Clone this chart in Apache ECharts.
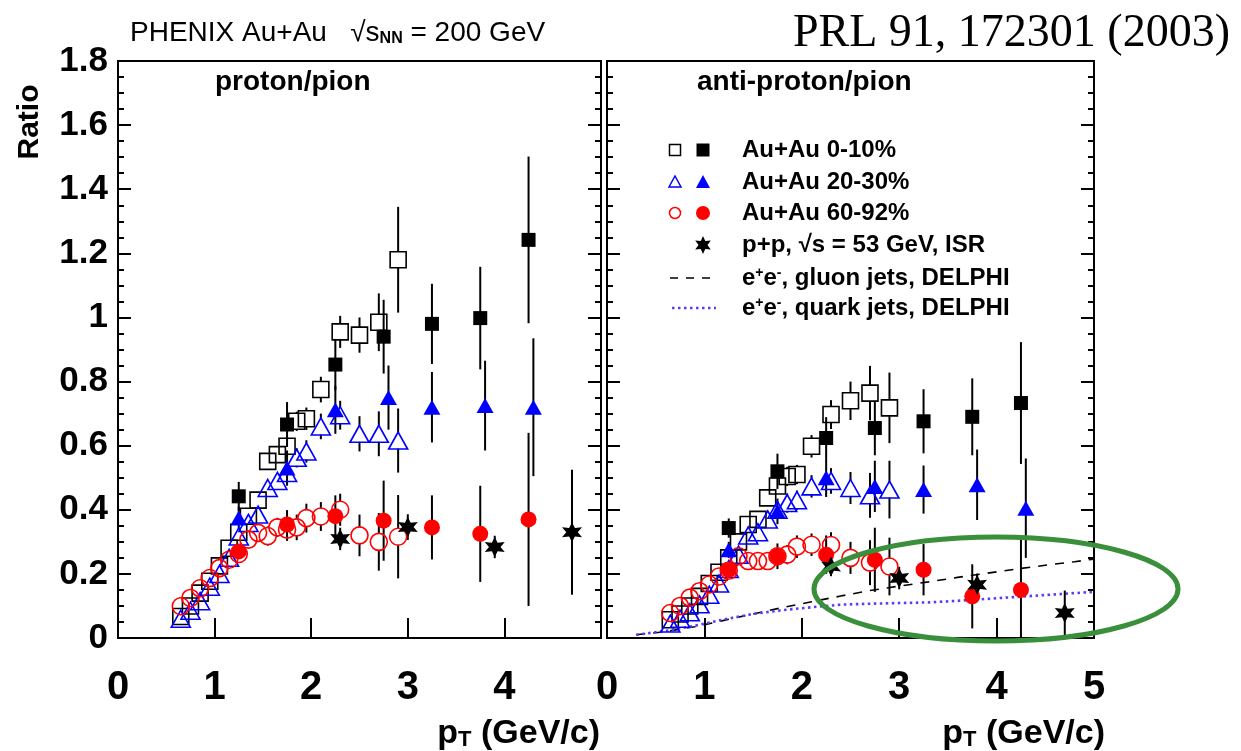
<!DOCTYPE html>
<html>
<head>
<meta charset="utf-8">
<script src="https://cdn.jsdelivr.net/npm/echarts@6/dist/echarts.min.js"></script>
<style>
  html, body { margin: 0; padding: 0; background: #fff; }
  #chart { width: 1241px; height: 751px; }
</style>
</head>
<body>
<div id="chart"></div>
<script>
// ---- pT bins (GeV/c) ----
const ptFine = [0.65, 0.75, 0.85, 0.95, 1.05, 1.15, 1.25, 1.35, 1.45, 1.55, 1.65, 1.75, 1.85, 1.95, 2.1, 2.3, 2.5, 2.7, 2.9];
const ptCoarse = [1.25, 1.75, 2.25, 2.75, 3.25, 3.75, 4.25];
const ptCoarseTriL = [1.25, 1.75, 2.25, 2.8, 3.25, 3.8, 4.3];
const ptCoarseTriR = [1.25, 1.75, 2.25, 2.75, 3.25, 3.8, 4.3];
const ptISR_L = [2.3, 3.0, 3.9, 4.7];
const ptISR_R = [2.3, 3.0, 3.8, 4.7];
const ptDelphi = [0.3, 0.6, 0.9, 1.2, 1.5, 1.8, 2.1, 2.4, 2.7, 3.0, 3.3, 3.6, 3.9, 4.2, 4.5, 4.8, 5.0];

// ---- proton/pion ----
const pFine0010 = [0.067, 0.10, 0.14, 0.177, 0.225, 0.28, 0.33, 0.38, 0.43, 0.551, 0.572, 0.598, 0.676, 0.684, 0.775, 0.955, 0.945, 0.985, 1.18];
const pFine0010Err = [0, 0, 0, 0.01, 0.01, 0.015, 0.015, 0.02, 0.02, 0.025, 0.025, 0.03, 0.03, 0.035, 0.04, 0.05, 0.055, 0.09, 0.165];
const pFine2030 = [0.06, 0.085, 0.115, 0.16, 0.2, 0.25, 0.317, 0.359, 0.385, 0.468, 0.49, 0.515, 0.562, 0.582, 0.66, 0.695, 0.637, 0.637, 0.616];
const pFine2030Err = [0, 0, 0, 0.01, 0.01, 0.015, 0.015, 0.02, 0.02, 0.025, 0.025, 0.03, 0.03, 0.035, 0.04, 0.045, 0.055, 0.07, 0.1];
const pFine6092 = [0.099, 0.125, 0.155, 0.187, 0.218, 0.244, 0.262, 0.307, 0.328, 0.318, 0.345, 0.338, 0.345, 0.374, 0.379, 0.40, 0.32, 0.30, 0.316];
const pFine6092Err = [0, 0, 0.01, 0.01, 0.015, 0.015, 0.02, 0.02, 0.025, 0.03, 0.03, 0.035, 0.04, 0.045, 0.045, 0.05, 0.065, 0.09, 0.13];
const pCoarse0010 = [0.442, 0.666, 0.853, 0.94, 0.98, 0.998, 1.242];
const pCoarse0010Err = [0.045, 0.07, 0.08, 0.115, 0.125, 0.16, 0.26];
const pCoarse2030 = [0.374, 0.53, 0.712, 0.75, 0.72, 0.725, 0.72];
const pCoarse2030Err = [0.035, 0.055, 0.075, 0.1, 0.11, 0.14, 0.215];
const pCoarse6092 = [0.27, 0.354, 0.38, 0.366, 0.345, 0.325, 0.37];
const pCoarse6092Err = [0.02, 0.045, 0.065, 0.125, 0.1, 0.15, 0.27];
const pISR = [0.309, 0.346, 0.284, 0.33];
const pISRErr = [0.035, 0.04, 0.035, 0.195];

// ---- anti-proton/pion ----
const pbFine0010 = [0.057, 0.075, 0.10, 0.13, 0.17, 0.205, 0.25, 0.30, 0.354, 0.37, 0.437, 0.474, 0.504, 0.51, 0.598, 0.697, 0.74, 0.764, 0.718];
const pbFine0010Err = [0, 0, 0, 0.01, 0.01, 0.015, 0.015, 0.02, 0.02, 0.02, 0.025, 0.025, 0.03, 0.03, 0.035, 0.045, 0.06, 0.085, 0.11];
const pbFine2030 = [0.045, 0.06, 0.08, 0.105, 0.135, 0.17, 0.215, 0.26, 0.32, 0.33, 0.37, 0.40, 0.421, 0.43, 0.473, 0.49, 0.468, 0.445, 0.463];
const pbFine2030Err = [0, 0, 0, 0.01, 0.01, 0.01, 0.015, 0.015, 0.02, 0.02, 0.025, 0.025, 0.03, 0.03, 0.035, 0.04, 0.05, 0.07, 0.09];
const pbFine6092 = [0.078, 0.10, 0.126, 0.146, 0.167, 0.192, 0.21, 0.255, 0.24, 0.24, 0.24, 0.255, 0.26, 0.285, 0.291, 0.29, 0.25, 0.235, 0.223];
const pbFine6092Err = [0, 0, 0.01, 0.01, 0.01, 0.015, 0.015, 0.02, 0.02, 0.02, 0.025, 0.025, 0.03, 0.035, 0.035, 0.04, 0.05, 0.07, 0.09];
const pbCoarse0010 = [0.343, 0.52, 0.624, 0.655, 0.676, 0.69, 0.733];
const pbCoarse0010Err = [0.03, 0.055, 0.065, 0.085, 0.1, 0.12, 0.19];
const pbCoarse2030 = [0.275, 0.395, 0.5, 0.473, 0.463, 0.478, 0.405];
const pbCoarse2030Err = [0.025, 0.04, 0.06, 0.08, 0.075, 0.11, 0.155];
const pbCoarse6092 = [0.213, 0.255, 0.26, 0.244, 0.213, 0.13, 0.15];
const pbCoarse6092Err = [0.02, 0.04, 0.06, 0.1, 0.08, 0.1, 0.17];
const pbISR = [0.223, 0.187, 0.166, 0.078];
const pbISRErr = [0.03, 0.035, 0.035, 0.07];
const delphiGluon = [0.01, 0.02, 0.035, 0.055, 0.075, 0.095, 0.113, 0.131, 0.148, 0.162, 0.175, 0.189, 0.202, 0.215, 0.227, 0.238, 0.246];
const delphiQuark = [0.01, 0.022, 0.038, 0.058, 0.075, 0.087, 0.096, 0.104, 0.107, 0.109, 0.111, 0.116, 0.122, 0.128, 0.134, 0.14, 0.144];

// ---- legend / axis texts ----
const legendLabels = [
  '{a|Au+Au 0-10%}',
  '{a|Au+Au 20-30%}',
  '{a|Au+Au 60-92%}',
  '{a|p+p, √s = 53 GeV, ISR}',
  '{a|e}{sup|+}{a|e}{sup|-}{a|, gluon jets, DELPHI}',
  '{a|e}{sup|+}{a|e}{sup|-}{a|, quark jets, DELPHI}'
];

const SANS = '"Liberation Sans", Arial, Helvetica, sans-serif';
const BLUE = '#0000ff', RED = '#ff0000', BLACK = '#000000', VIOLET = '#5a3cf5';

// six-pointed star used for the ISR p+p points
function starPoints(cx, cy, R, r, n) {
  const pts = [];
  for (let i = 0; i < 2 * n; i++) {
    const a = -Math.PI / 2 + i * Math.PI / n;
    const rad = i % 2 === 0 ? R : r;
    pts.push([cx + rad * Math.cos(a), cy + rad * Math.sin(a)]);
  }
  return pts;
}
const starSymbol = 'path://' + starPoints(10, 10, 10, 5, 6)
  .map((p, i) => (i ? 'L' : 'M') + p[0].toFixed(2) + ' ' + p[1].toFixed(2)).join(' ') + ' Z';

function pairs(xs, ys) { return xs.map((x, i) => [x, ys[i]]); }

// vertical error bars; an optional gap keeps the line out of open markers
function errorBars(panel, xs, ys, errs, gap) {
  return {
    type: 'custom', xAxisIndex: panel, yAxisIndex: panel * 2, z: 2, silent: true,
    data: xs.map((x, i) => [x, ys[i], errs[i]]),
    renderItem(params, api) {
      const x = api.value(0), y = api.value(1), e = api.value(2);
      if (!e) return { type: 'group', children: [] };
      const top = api.coord([x, y + e]);
      const mid = api.coord([x, y]);
      const bot = api.coord([x, Math.max(y - e, 0)]);
      const st = { stroke: BLACK, lineWidth: 2 };
      const kids = [];
      if (mid[1] - top[1] > gap) kids.push({ type: 'line', shape: { x1: mid[0], y1: top[1], x2: mid[0], y2: mid[1] - gap }, style: st });
      if (bot[1] - mid[1] > gap) kids.push({ type: 'line', shape: { x1: mid[0], y1: mid[1] + gap, x2: mid[0], y2: bot[1] }, style: st });
      return { type: 'group', children: kids };
    }
  };
}

function openSeries(panel, name, xs, ys, symbol, size, color) {
  return {
    name, type: 'scatter', xAxisIndex: panel, yAxisIndex: panel * 2, z: 3, silent: true,
    symbol, symbolSize: size, data: pairs(xs, ys),
    itemStyle: { color: 'rgba(0,0,0,0)', borderColor: color, borderWidth: 1.6, opacity: 1 }
  };
}
function filledSeries(panel, name, xs, ys, symbol, size, color, z) {
  return {
    name, type: 'scatter', xAxisIndex: panel, yAxisIndex: panel * 2, z: z || 4, silent: true,
    symbol, symbolSize: size, data: pairs(xs, ys),
    itemStyle: { color, borderWidth: 0, opacity: 1 }
  };
}

function panelSeries(panel, d) {
  return [
    errorBars(panel, ptFine, d.fC, d.fCe, 8),
    errorBars(panel, ptFine, d.fM, d.fMe, 8),
    errorBars(panel, ptFine, d.fP, d.fPe, 8),
    errorBars(panel, ptCoarse, d.cC, d.cCe, 0),
    errorBars(panel, d.triPt, d.cM, d.cMe, 0),
    errorBars(panel, ptCoarse, d.cP, d.cPe, 0),
    errorBars(panel, d.isrPt, d.isr, d.isrE, 0),
    openSeries(panel, 'Au+Au 0-10%', ptFine, d.fC, 'rect', 16, BLACK),
    openSeries(panel, 'Au+Au 20-30%', ptFine, d.fM, 'triangle', [19, 17], BLUE),
    openSeries(panel, 'Au+Au 60-92%', ptFine, d.fP, 'circle', 17, RED),
    filledSeries(panel, 'Au+Au 0-10%', ptCoarse, d.cC, 'rect', 14, BLACK),
    filledSeries(panel, 'Au+Au 20-30%', d.triPt, d.cM, 'triangle', [17, 15], BLUE),
    filledSeries(panel, 'Au+Au 60-92%', ptCoarse, d.cP, 'circle', 16, RED),
    filledSeries(panel, 'p+p ISR', d.isrPt, d.isr, starSymbol, 20, BLACK, 5)
  ];
}

const GRID_TOP = 61, GRID_H = 577;
const grids = [
  { left: 118, top: GRID_TOP, width: 483, height: GRID_H },
  { left: 607, top: GRID_TOP, width: 487, height: GRID_H }
].map(g => Object.assign(g, { show: true, borderColor: BLACK, borderWidth: 2, backgroundColor: 'transparent' }));

function xAxisFor(panel) {
  return {
    type: 'value', gridIndex: panel, min: 0, max: 5, interval: 1,
    axisLine: { show: true, onZero: false, lineStyle: { color: BLACK, width: 2 } },
    axisTick: { show: true, inside: true, length: 20, lineStyle: { color: BLACK, width: 2 } },
    splitLine: { show: false },
    axisLabel: {
      margin: 30, color: BLACK, fontFamily: SANS, fontWeight: 'bold', fontSize: 40,
      formatter: v => (panel === 0 && v === 5) ? '' : String(v)
    }
  };
}
function yAxisFor(panel, side) {
  return {
    type: 'value', gridIndex: panel, position: side, min: 0, max: 1.8, interval: 0.2,
    axisLine: { show: true, onZero: false, lineStyle: { color: BLACK, width: 2 } },
    axisTick: { show: true, inside: true, length: 13, lineStyle: { color: BLACK, width: 2 } },
    minorTick: { show: true, splitNumber: 4, length: 6, lineStyle: { color: BLACK, width: 2 } },
    splitLine: { show: false },
    axisLabel: {
      show: panel === 0 && side === 'left', margin: 10, color: BLACK,
      fontFamily: SANS, fontWeight: 'bold', fontSize: 35
    }
  };
}

const series = [].concat(
  panelSeries(0, {
    fC: pFine0010, fCe: pFine0010Err, fM: pFine2030, fMe: pFine2030Err, fP: pFine6092, fPe: pFine6092Err,
    cC: pCoarse0010, cCe: pCoarse0010Err, cM: pCoarse2030, cMe: pCoarse2030Err, cP: pCoarse6092, cPe: pCoarse6092Err,
    triPt: ptCoarseTriL, isrPt: ptISR_L, isr: pISR, isrE: pISRErr
  }),
  [
    { name: 'gluon jets', type: 'line', xAxisIndex: 1, yAxisIndex: 2, z: 1, silent: true, showSymbol: false,
      data: pairs(ptDelphi, delphiGluon), lineStyle: { color: BLACK, width: 1.6, type: [9, 8] } },
    { name: 'quark jets', type: 'line', xAxisIndex: 1, yAxisIndex: 2, z: 1, silent: true, showSymbol: false,
      data: pairs(ptDelphi, delphiQuark), lineStyle: { color: VIOLET, width: 2.6, type: [2.5, 3.5] } }
  ],
  panelSeries(1, {
    fC: pbFine0010, fCe: pbFine0010Err, fM: pbFine2030, fMe: pbFine2030Err, fP: pbFine6092, fPe: pbFine6092Err,
    cC: pbCoarse0010, cCe: pbCoarse0010Err, cM: pbCoarse2030, cMe: pbCoarse2030Err, cP: pbCoarse6092, cPe: pbCoarse6092Err,
    triPt: ptCoarseTriR, isrPt: ptISR_R, isr: pbISR, isrE: pbISRErr
  })
);

// legend drawn as graphic elements: open + filled marker pairs, line samples and labels
const LEG_X_OPEN = 675, LEG_X_FILL = 703, LEG_X_TEXT = 742;
const legendRows = [150, 182, 213, 245, 278, 308];
const legendGraphics = [
  { type: 'rect', shape: { x: LEG_X_OPEN - 5.5, y: legendRows[0] - 5.5, width: 11, height: 11 }, style: { fill: 'none', stroke: BLACK, lineWidth: 1.5 } },
  { type: 'rect', shape: { x: LEG_X_FILL - 6.5, y: legendRows[0] - 6.5, width: 13, height: 13 }, style: { fill: BLACK } },
  { type: 'polygon', shape: { points: [[LEG_X_OPEN, legendRows[1] - 6], [LEG_X_OPEN - 6, legendRows[1] + 5], [LEG_X_OPEN + 6, legendRows[1] + 5]] }, style: { fill: 'none', stroke: BLUE, lineWidth: 1.5 } },
  { type: 'polygon', shape: { points: [[LEG_X_FILL, legendRows[1] - 7], [LEG_X_FILL - 7, legendRows[1] + 6], [LEG_X_FILL + 7, legendRows[1] + 6]] }, style: { fill: BLUE } },
  { type: 'circle', shape: { cx: LEG_X_OPEN, cy: legendRows[2], r: 5.5 }, style: { fill: 'none', stroke: RED, lineWidth: 1.5 } },
  { type: 'circle', shape: { cx: LEG_X_FILL, cy: legendRows[2], r: 7 }, style: { fill: RED } },
  { type: 'polygon', shape: { points: starPoints(LEG_X_FILL, legendRows[3], 9, 4.5, 6) }, style: { fill: BLACK } },
  { type: 'line', shape: { x1: 670, y1: legendRows[4], x2: 717, y2: legendRows[4] }, style: { stroke: BLACK, lineWidth: 1.6, lineDash: [8, 8] } },
  { type: 'line', shape: { x1: 672, y1: legendRows[5], x2: 716, y2: legendRows[5] }, style: { stroke: VIOLET, lineWidth: 2.6, lineDash: [2.5, 3.5] } }
].concat(legendLabels.map((t, i) => ({
  type: 'text', x: LEG_X_TEXT, y: legendRows[i],
  style: {
    text: t, align: 'left', verticalAlign: 'middle', fill: BLACK,
    rich: {
      a: { fontFamily: SANS, fontWeight: 'bold', fontSize: 24, fill: BLACK },
      sup: { fontFamily: SANS, fontWeight: 'bold', fontSize: 14, verticalAlign: 'top', fill: BLACK }
    }
  }
})));

const axisTitleRich = {
  a: { fontFamily: SANS, fontWeight: 'bold', fontSize: 34, fill: BLACK },
  sub: { fontFamily: SANS, fontWeight: 'bold', fontSize: 22, verticalAlign: 'bottom', fill: BLACK }
};

const option = {
  animation: false,
  backgroundColor: '#ffffff',
  grid: grids,
  xAxis: [xAxisFor(0), xAxisFor(1)],
  yAxis: [yAxisFor(0, 'left'), yAxisFor(0, 'right'), yAxisFor(1, 'left'), yAxisFor(1, 'right')],
  series,
  graphic: [
    { type: 'text', x: 130, y: 33, style: {
        text: '{a|PHENIX Au+Au   √s}{sub|NN}{a| = 200 GeV}', align: 'left', verticalAlign: 'middle',
        rich: {
          a: { fontFamily: SANS, fontSize: 28, fill: BLACK },
          sub: { fontFamily: SANS, fontWeight: 'bold', fontSize: 16, verticalAlign: 'bottom', fill: BLACK }
        } } },
    { type: 'text', x: 1230, y: 34, style: {
        text: 'PRL 91, 172301 (2003)', align: 'right', verticalAlign: 'middle',
        fontFamily: '"Liberation Serif", "Times New Roman", serif', fontSize: 46, fill: BLACK } },
    { type: 'text', x: 215, y: 82, style: { text: 'proton/pion', align: 'left', verticalAlign: 'middle',
        fontFamily: SANS, fontWeight: 'bold', fontSize: 28, fill: BLACK } },
    { type: 'text', x: 697, y: 82, style: { text: 'anti-proton/pion', align: 'left', verticalAlign: 'middle',
        fontFamily: SANS, fontWeight: 'bold', fontSize: 28, fill: BLACK } },
    { type: 'text', x: 30, y: 122, rotation: Math.PI / 2, style: { text: 'Ratio', align: 'center', verticalAlign: 'middle',
        fontFamily: SANS, fontWeight: 'bold', fontSize: 30, fill: BLACK } },
    { type: 'text', x: 600, y: 734, style: { text: '{a|p}{sub|T}{a| (GeV/c)}', align: 'right', verticalAlign: 'middle', rich: axisTitleRich } },
    { type: 'text', x: 1105, y: 734, style: { text: '{a|p}{sub|T}{a| (GeV/c)}', align: 'right', verticalAlign: 'middle', rich: axisTitleRich } },
    // highlight ring around the high-pT region of the anti-proton panel
    { type: 'ellipse', shape: { cx: 996, cy: 589, rx: 182, ry: 52 }, z: 100,
      style: { fill: 'none', stroke: '#3a8f3a', lineWidth: 5 } }
  ].concat(legendGraphics)
};

const chart = echarts.init(document.getElementById('chart'), null, { renderer: 'canvas' });
chart.setOption(option);
</script>
</body>
</html>
